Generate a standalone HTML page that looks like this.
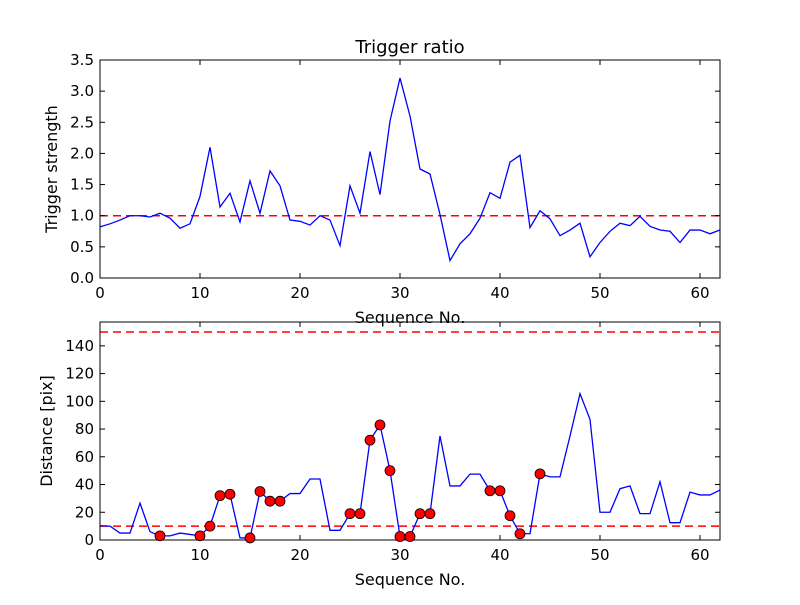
<!DOCTYPE html>
<html><head><meta charset="utf-8"><style>
body{margin:0;background:#fff}
svg text{font-family:"DejaVu Sans","Liberation Sans",sans-serif;fill:#000}
</style></head><body>
<svg id="c" width="800" height="600" xmlns="http://www.w3.org/2000/svg">
<rect width="800" height="600" fill="#fff"/>
<text x="410" y="53" font-size="18" text-anchor="middle">Trigger ratio</text>
</svg>
<script>
const ratioValues=[0.82,0.87,0.93,1.0,1.0,0.98,1.04,0.96,0.80,0.87,1.31,2.10,1.14,1.36,0.90,1.56,1.04,1.72,1.48,0.93,0.91,0.85,1.0,0.93,0.52,1.48,1.04,2.03,1.34,2.52,3.21,2.60,1.75,1.67,1.02,0.28,0.55,0.71,0.96,1.37,1.28,1.86,1.97,0.81,1.08,0.95,0.68,0.77,0.88,0.34,0.57,0.75,0.88,0.84,0.99,0.83,0.77,0.75,0.57,0.77,0.77,0.71,0.77];
const distValues=[10.3,10,5,5,26.6,6,3,3,5,4,3,10,32,33,1.5,1.5,35,28,28,33.5,33.5,44,44,7,7,19,19,72,83,50,2.5,2.5,19,19,75,39,39,47.5,47.5,35.5,35.5,17.5,4.5,4.5,47.7,45.5,45.5,75,105.5,87,20,20,37,39,19,19,42,12.5,12.5,34.5,32.5,32.5,36];
const markerIdx=[6,10,11,12,13,15,16,17,18,25,26,27,28,29,30,31,32,33,39,40,41,42,44];
const xTicks=[0,10,20,30,40,50,60];
const topYTicks=[0,0.5,1,1.5,2,2.5,3,3.5];
const botYTicks=[0,20,40,60,80,100,120,140];
const topThresh=[1.0];
const botThresh=[10,150];

const svg=document.getElementById('c');
const NS='http://www.w3.org/2000/svg';
function mk(t,a,p){const e=document.createElementNS(NS,t);for(const k in a)e.setAttribute(k,a[k]);(p||svg).appendChild(e);return e;}
const L=100,R=720,xMax=62;
const xs=v=>L+(v/xMax)*(R-L);

function panel(name,top,bot,yMax,yTicks,yFmt,vals,thr,ylabel){
  const ys=v=>bot-(v/yMax)*(bot-top);
  const g=mk('g',{});
  
  
  thr.forEach(t=>{const l=mk('line',{x1:L,x2:R,y1:ys(t),y2:ys(t),stroke:'#f00','stroke-width':1.5,'stroke-dasharray':'8,5'},g);
    
    });
  const p=mk('polyline',{points:vals.map((v,i)=>xs(i)+','+ys(v)).join(' '),fill:'none',stroke:'#00f','stroke-width':1.3},g);
  
  
  mk('rect',{x:L,y:top,width:R-L,height:bot-top,fill:'none',stroke:'#000','stroke-width':1},g);
  xTicks.forEach(t=>{const x=xs(t);
    mk('line',{x1:x,x2:x,y1:bot,y2:bot-5,stroke:'#000'},g);
    mk('line',{x1:x,x2:x,y1:top,y2:top+5,stroke:'#000'},g);
    const tx=mk('text',{x:x,y:bot+20,'font-size':15,'text-anchor':'middle'},g);tx.textContent=t;
    
    });
  yTicks.forEach(t=>{const y=ys(t);
    mk('line',{x1:L,x2:L+5,y1:y,y2:y,stroke:'#000'},g);
    mk('line',{x1:R,x2:R-5,y1:y,y2:y,stroke:'#000'},g);
    const tx=mk('text',{x:L-6,y:y+5,'font-size':15,'text-anchor':'end'},g);tx.textContent=yFmt(t);
    
    });
  const xl=mk('text',{x:410,y:bot+45,'font-size':16,'text-anchor':'middle'},g);xl.textContent='Sequence No.';
  
  
  const yl=mk('text',{x:0,y:0,'font-size':16,'text-anchor':'middle',transform:`translate(${name==='top-panel'?57:52},${(top+bot)/2}) rotate(-90)`},g);yl.textContent=ylabel;
  
  
  return {g,ys};
}
panel('top-panel',60,278,3.5,topYTicks,t=>t.toFixed(1),ratioValues,topThresh,'Trigger strength');
const b=panel('bottom-panel',322,540,157.2,botYTicks,t=>String(t),distValues,botThresh,'Distance [pix]');
markerIdx.forEach(i=>{const c=mk('circle',{cx:xs(i),cy:b.ys(distValues[i]),r:5,fill:'#f00',stroke:'#000','stroke-width':0.8},b.g);
  
  });
</script>
</body></html>
